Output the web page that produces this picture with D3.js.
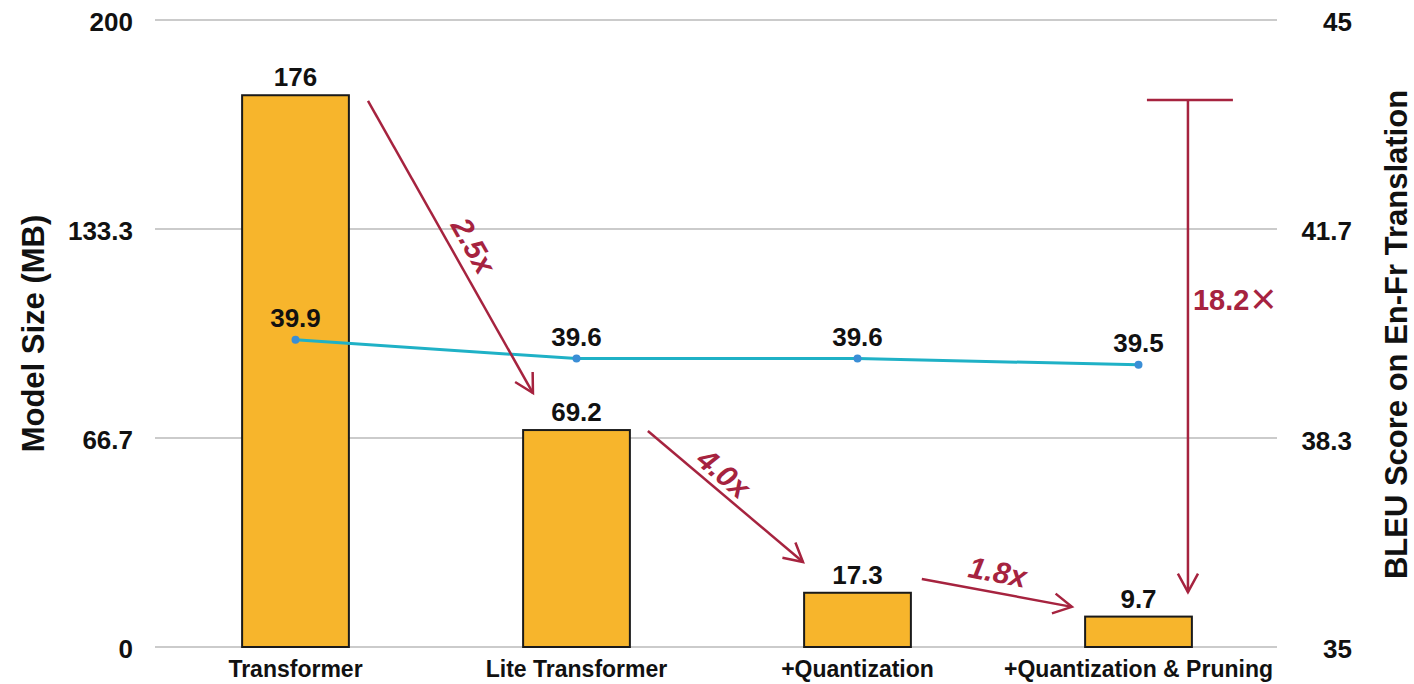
<!DOCTYPE html>
<html>
<head>
<meta charset="utf-8">
<script src="https://cdn.jsdelivr.net/npm/d3@7"></script>
<style>
  html, body { margin: 0; padding: 0; background: #fff; }
  svg { display: block; font-family: "Liberation Sans", Arial, sans-serif; }
</style>
</head>
<body>
<svg id="chart" width="1414" height="684"></svg>
<script>
// Model size vs. BLEU across compression stages
const categories = ["Transformer", "Lite Transformer", "+Quantization", "+Quantization & Pruning"];
const modelSize = [176, 69.2, 17.3, 9.7];          // MB (left axis)
const bleuScore = [39.9, 39.6, 39.6, 39.5];         // BLEU (right axis)
const sizeTicks = [0, 66.67, 133.33, 200];
const bleuTicks = [35, 38.33, 41.67, 45];

// Step-wise reduction arrows, in (category index, MB) units
const stepLabels = ["2.5x", "4.0x", "1.8x"];
const stepFrom = [[0.258, 174.2], [1.254, 68.9], [2.229, 21.7]];
const stepTo   = [[0.845, 81.0],  [1.806, 27.1], [2.763, 12.8]];
const stepLabelAt = [0.53, 0.42, 0.48];   // fraction along each arrow
const stepLabelOff = [21, 17, 21];        // px, perpendicular
// Overall reduction bracket
const totalLabel = "18.2";
const totalX = 3.176, totalTop = 174.5, totalBottom = 17.5, totalCap = [3.03, 3.336], totalLabelY = 107.5;

const svg = d3.select("#chart");
const plotL = 155, plotR = 1279, plotT = 20, plotB = 647;
const RED = "#A6233F";

const x = d3.scaleBand().domain(categories).range([plotL, plotR])
  .paddingInner(0.62).paddingOuter(0.31);
const ySize = d3.scaleLinear().domain([0, 200]).range([plotB, plotT]);
const yBleu = d3.scaleLinear().domain([35, 45]).range([plotB, plotT]);
const xIdx = d3.scaleLinear().domain([0, 1])
  .range([x(categories[0]) + x.bandwidth() / 2, x(categories[1]) + x.bandwidth() / 2]);

// gridlines
svg.append("g").selectAll("line").data(sizeTicks).join("line")
  .attr("x1", plotL).attr("x2", plotR - 2)
  .attr("y1", d => ySize(d)).attr("y2", d => ySize(d))
  .attr("stroke", "#cbcbcb").attr("stroke-width", 2);

const fmt = d => String(+d.toFixed(1));

// left axis
const gl = svg.append("g").attr("transform", `translate(${plotL},0)`)
  .call(d3.axisLeft(ySize).tickValues(sizeTicks).tickFormat(fmt).tickSize(0).tickPadding(22));
gl.select(".domain").remove();
gl.selectAll("text").attr("font-size", 26).attr("font-weight", "bold").attr("fill", "#111")
  .attr("font-family", "Liberation Sans, Arial, sans-serif").attr("dy", "0.42em");

// right axis
const gr = svg.append("g").attr("transform", `translate(${plotR},0)`)
  .call(d3.axisRight(yBleu).tickValues(bleuTicks).tickFormat(fmt).tickSize(0).tickPadding(73));
gr.select(".domain").remove();
gr.selectAll("text").attr("font-size", 26).attr("font-weight", "bold").attr("fill", "#111")
  .attr("text-anchor", "end")
  .attr("font-family", "Liberation Sans, Arial, sans-serif").attr("dy", "0.42em");

// x-axis category labels
const gx = svg.append("g").attr("transform", `translate(0,${plotB})`)
  .call(d3.axisBottom(x).tickSize(0).tickPadding(14));
gx.select(".domain").remove();
gx.selectAll("text").attr("font-size", 23).attr("font-weight", "bold").attr("fill", "#111")
  .attr("font-family", "Liberation Sans, Arial, sans-serif").attr("dy", "0.71em");

// axis titles
svg.append("text").attr("transform", `translate(44,${(plotT + plotB) / 2}) rotate(-90)`)
  .attr("text-anchor", "middle").attr("font-size", 31).attr("font-weight", "bold").attr("fill", "#111")
  .text("Model Size (MB)");
svg.append("text").attr("transform", `translate(1407,${(plotT + plotB) / 2 + 1}) rotate(-90)`)
  .attr("text-anchor", "middle").attr("font-size", 31).attr("font-weight", "bold").attr("fill", "#111")
  .text("BLEU Score on En-Fr Translation");

// bars
svg.append("g").selectAll("rect").data(categories).join("rect")
  .attr("x", d => x(d)).attr("width", x.bandwidth())
  .attr("y", (d, i) => ySize(modelSize[i]))
  .attr("height", (d, i) => ySize(0) - ySize(modelSize[i]))
  .attr("fill", "#F7B52C").attr("stroke", "#1a1a1a").attr("stroke-width", 2);

svg.append("g").selectAll("text").data(categories).join("text")
  .attr("x", d => x(d) + x.bandwidth() / 2)
  .attr("y", (d, i) => ySize(modelSize[i]) - 9)
  .attr("text-anchor", "middle").attr("font-size", 26).attr("font-weight", "bold").attr("fill", "#111")
  .text((d, i) => modelSize[i]);

// BLEU line
const line = d3.line().x((d, i) => x(categories[i]) + x.bandwidth() / 2).y(d => yBleu(d));
svg.append("path").datum(bleuScore).attr("d", line)
  .attr("fill", "none").attr("stroke", "#1FB1C6").attr("stroke-width", 3);
svg.append("g").selectAll("circle").data(bleuScore).join("circle")
  .attr("cx", (d, i) => x(categories[i]) + x.bandwidth() / 2).attr("cy", d => yBleu(d))
  .attr("r", 4).attr("fill", "#3A8ED6");
svg.append("g").selectAll("text").data(bleuScore).join("text")
  .attr("x", (d, i) => x(categories[i]) + x.bandwidth() / 2)
  .attr("y", d => yBleu(d) - 13)
  .attr("text-anchor", "middle").attr("font-size", 26).attr("font-weight", "bold").attr("fill", "#111")
  .text(d => d.toFixed(1));

// arrows
function arrow(g, x1, y1, x2, y2) {
  g.append("line").attr("x1", x1).attr("y1", y1).attr("x2", x2).attr("y2", y2)
    .attr("stroke", RED).attr("stroke-width", 2.5);
  const a = Math.atan2(y2 - y1, x2 - x1), L = 21, h = 0.5;
  const p1 = [x2 - L * Math.cos(a - h), y2 - L * Math.sin(a - h)];
  const p2 = [x2 - L * Math.cos(a + h), y2 - L * Math.sin(a + h)];
  g.append("path").attr("d", `M${p1}L${x2},${y2}L${p2}`)
    .attr("fill", "none").attr("stroke", RED).attr("stroke-width", 2.5)
    .attr("stroke-linejoin", "miter").attr("stroke-linecap", "butt");
}

const ga = svg.append("g");
stepLabels.forEach((lab, i) => {
  const x1 = xIdx(stepFrom[i][0]), y1 = ySize(stepFrom[i][1]);
  const x2 = xIdx(stepTo[i][0]), y2 = ySize(stepTo[i][1]);
  arrow(ga, x1, y1, x2, y2);
  const a = Math.atan2(y2 - y1, x2 - x1);
  const t = stepLabelAt[i], off = stepLabelOff[i];
  const cx = x1 + (x2 - x1) * t + Math.sin(a) * off;
  const cy = y1 + (y2 - y1) * t - Math.cos(a) * off;
  ga.append("text")
    .attr("transform", `translate(${cx},${cy}) rotate(${a * 180 / Math.PI})`)
    .attr("text-anchor", "middle").attr("dy", "0.36em")
    .attr("font-size", 30).attr("font-weight", "bold").attr("font-style", "italic")
    .attr("fill", RED).text(lab);
});

// overall reduction bracket
const tx = xIdx(totalX);
ga.append("line").attr("x1", xIdx(totalCap[0])).attr("x2", xIdx(totalCap[1]))
  .attr("y1", ySize(totalTop)).attr("y2", ySize(totalTop))
  .attr("stroke", RED).attr("stroke-width", 2.5);
arrow(ga, tx, ySize(totalTop), tx, ySize(totalBottom));
const tl = ga.append("text").attr("x", tx + 5).attr("y", ySize(totalLabelY))
  .attr("font-size", 29).attr("fill", RED);
tl.append("tspan").attr("font-weight", "bold").text(totalLabel);
tl.append("tspan").attr("font-weight", "normal").attr("font-size", 44).attr("dx", 1).attr("dy", 4).text("\u00D7");
</script>
</body>
</html>
